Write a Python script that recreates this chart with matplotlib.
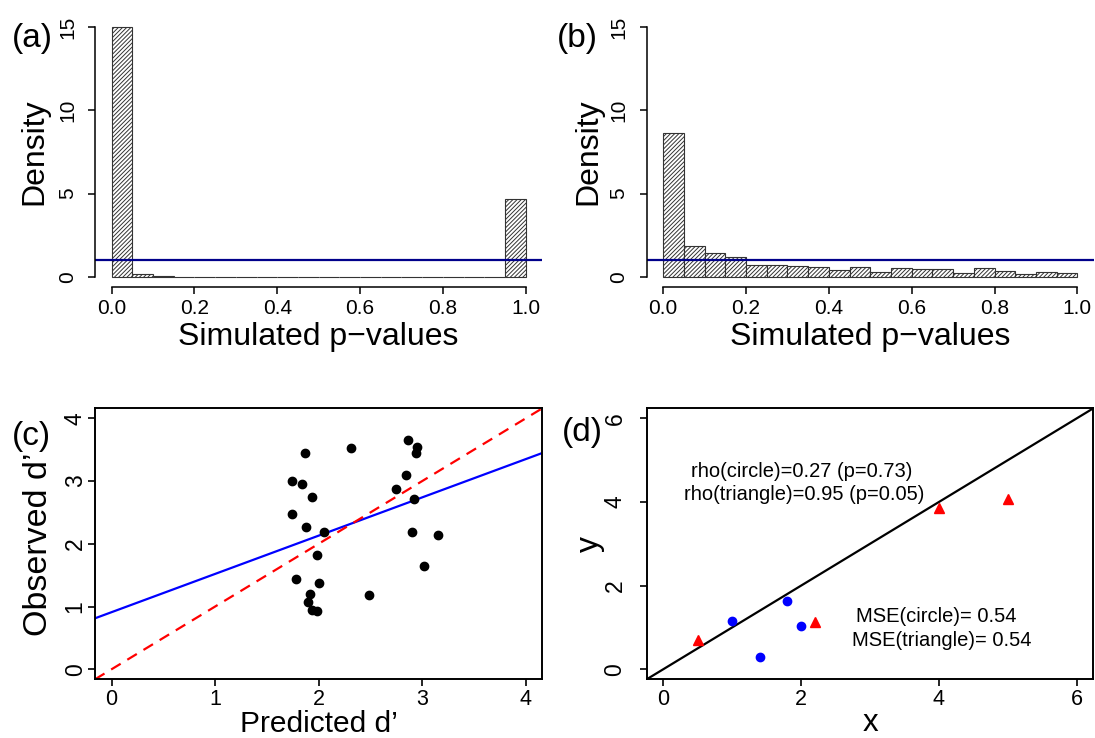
import numpy as np
import matplotlib
matplotlib.use("Agg")
import matplotlib.pyplot as plt

plt.rcParams['font.family'] = ['Liberation Sans', 'DejaVu Sans']
plt.rcParams['hatch.linewidth'] = 0.7

# histogram densities, 20 bins of width 0.05 on [0, 1]
bin_left = np.linspace(0, 0.95, 20)
dens_a = [15.0, 0.17, 0.05, 0, 0, 0, 0, 0, 0, 0,
          0, 0, 0, 0, 0, 0, 0, 0, 0, 4.68]
dens_b = [8.65, 1.84, 1.46, 1.18, 0.70, 0.70, 0.66, 0.58, 0.44, 0.58,
          0.30, 0.54, 0.46, 0.50, 0.26, 0.54, 0.34, 0.16, 0.30, 0.26]
uniform_density = 1.0

# panel (c): predicted vs observed d'
pred_d = [1.87, 2.31, 2.86, 2.95, 2.94, 1.74, 1.84, 2.84, 2.75, 1.94,
          2.92, 1.74, 1.88, 2.05, 2.90, 3.15, 1.98, 3.02, 1.78, 2.00,
          2.49, 1.92, 1.90, 1.94, 1.98]
obs_d = [3.44, 3.52, 3.66, 3.54, 3.45, 3.00, 2.96, 3.09, 2.88, 2.74,
         2.71, 2.47, 2.26, 2.19, 2.19, 2.14, 1.82, 1.64, 1.44, 1.38,
         1.19, 1.20, 1.07, 0.94, 0.93]
fit_intercept = 0.91
fit_slope = 0.61

# panel (d): circles and triangles
circle_x = [1.0, 1.4, 1.8, 2.0]
circle_y = [1.16, 0.30, 1.63, 1.04]
tri_x = [0.5, 2.2, 4.0, 5.0]
tri_y = [0.69, 1.13, 3.86, 4.07]

W, H = 1095, 738
fig = plt.figure(figsize=(W / 100, H / 100), dpi=100)
ax_a = fig.add_axes([95 / W, 1 - 287 / H, 447.3 / W, 270 / H])
ax_b = fig.add_axes([646.5 / W, 1 - 287 / H, 447.5 / W, 270 / H])
ax_c = fig.add_axes([95 / W, 1 - 679.3 / H, 447.3 / W, 271 / H])
ax_d = fig.add_axes([646.7 / W, 1 - 679.3 / H, 446.6 / W, 271 / H])

LAB = 23
PANEL = 24


def hist_panel(ax, dens, ylab_x):
    ax.bar(bin_left, dens, width=0.05, align='edge', facecolor='white',
           edgecolor='#333333', hatch='////////', linewidth=0.8)
    ax.axhline(uniform_density, color='#00008B', lw=1.6)
    ax.set_xlim(-0.04, 1.04)
    ax.set_ylim(-0.6, 15.6)
    ax.set_xticks([0, 0.2, 0.4, 0.6, 0.8, 1.0])
    ax.set_xticklabels(['0.0', '0.2', '0.4', '0.6', '0.8', '1.0'])
    ax.set_yticks([0, 5, 10, 15])
    for s in ('top', 'right'):
        ax.spines[s].set_visible(False)
    ax.spines['left'].set_bounds(0, 15)
    ax.spines['bottom'].set_bounds(0, 1)
    for s in ('left', 'bottom'):
        ax.spines[s].set_linewidth(1.1)
    ax.tick_params(axis='x', labelsize=15, length=5, width=1.1, pad=4)
    ax.tick_params(axis='y', labelsize=15, length=5, width=1.1, pad=8,
                   labelrotation=90)
    for t in ax.get_yticklabels():
        t.set_va('center')
    ax.text(0.5, -0.215, 'Simulated p\u2212values', transform=ax.transAxes,
            ha='center', va='baseline', fontsize=LAB)
    ax.text(ylab_x, 0.5, 'Density', transform=ax.transAxes, rotation=90,
            ha='center', va='center', fontsize=LAB)


hist_panel(ax_a, dens_a, -0.136)
hist_panel(ax_b, dens_b, -0.131)

# (c)
ax_c.axline((0, fit_intercept), slope=fit_slope, color='#0000FF', lw=1.6)
ax_c.axline((0, 0), slope=1, color='#FF0000', lw=1.6,
            linestyle=(0, (5, 3.5)))
ax_c.plot(pred_d, obs_d, 'o', color='black', ms=6, zorder=3)
ax_c.set_xlim(-0.16, 4.16)
ax_c.set_ylim(-0.16, 4.16)
ax_c.set_xticks([0, 1, 2, 3, 4])
ax_c.set_yticks([0, 1, 2, 3, 4])
ax_c.tick_params(axis='y', pad=1)
ax_c.text(0.5, -0.216, 'Predicted d\u2019', transform=ax_c.transAxes,
          ha='center', va='bottom', fontsize=21.5)
ax_c.text(-0.127, 0.5, 'Observed d\u2019', transform=ax_c.transAxes,
          rotation=90, ha='center', va='center', fontsize=24.5)

# (d)
ax_d.axline((0, 0), slope=1, color='black', lw=1.6)
ax_d.plot(circle_x, circle_y, 'o', color='#0000FF', ms=6, zorder=3)
ax_d.plot(tri_x, tri_y, '^', color='#FF0000', ms=7, zorder=3)
ax_d.set_xlim(-0.24, 6.24)
ax_d.set_ylim(-0.24, 6.24)
ax_d.set_xticks([0, 2, 4, 6])
ax_d.set_yticks([0, 2, 4, 6])
ax_d.tick_params(axis='y', pad=9.5)
ax_d.text(2.005, 4.74, 'rho(circle)=0.27 (p=0.73)', ha='center',
          va='center', fontsize=14.5)
ax_d.text(2.046, 4.175, 'rho(triangle)=0.95 (p=0.05)', ha='center',
          va='center', fontsize=14.5)
ax_d.text(3.96, 1.26, 'MSE(circle)= 0.54', ha='center', va='center',
          fontsize=14.5)
ax_d.text(4.046, 0.69, 'MSE(triangle)= 0.54', ha='center', va='center',
          fontsize=14.5)
ax_d.text(0.5, -0.216, 'x', transform=ax_d.transAxes, ha='center',
          va='bottom', fontsize=22.5)
ax_d.text(-0.126, 0.5, 'y', transform=ax_d.transAxes, rotation=90,
          ha='center', va='center', fontsize=LAB)

for ax in (ax_c, ax_d):
    for s in ax.spines.values():
        s.set_linewidth(1.4)
    ax.tick_params(axis='x', labelsize=15.5, length=5, width=1.2, pad=2)
    ax.tick_params(axis='y', labelsize=16.5, length=5, width=1.2,
                   labelrotation=90)
    for t in ax.get_yticklabels():
        t.set_va('center')

# panel letters
fig.text(12 / W, 1 - 38.5 / H, '(a)', ha='left', va='center', fontsize=PANEL)
fig.text(557 / W, 1 - 38.5 / H, '(b)', ha='left', va='center', fontsize=PANEL)
fig.text(12 / W, 1 - 436 / H, '(c)', ha='left', va='center', fontsize=PANEL)
fig.text(562 / W, 1 - 433 / H, '(d)', ha='left', va='center', fontsize=PANEL)

fig.savefig('out.png', dpi=100)
